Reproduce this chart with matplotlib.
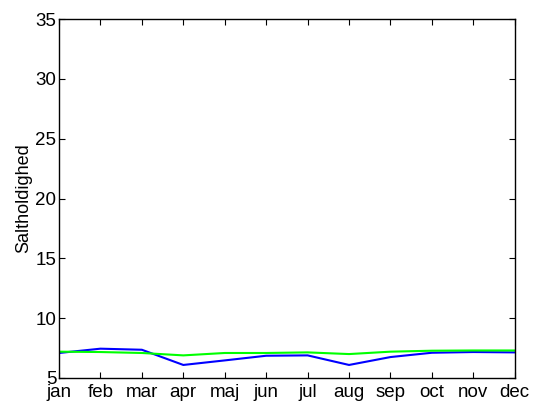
import matplotlib
matplotlib.use("Agg")
import matplotlib.pyplot as plt

# Manedlige gennemsnit af saltholdighed (aflaest fra figuren)
months = ["jan", "feb", "mar", "apr", "maj", "jun",
          "jul", "aug", "sep", "oct", "nov", "dec"]
salt_blue = [7.09, 7.45, 7.36, 6.09, 6.47, 6.86, 6.89, 6.09, 6.75, 7.11, 7.17, 7.14]
salt_green = [7.20, 7.17, 7.09, 6.89, 7.09, 7.09, 7.14, 7.00, 7.20, 7.28, 7.30, 7.30]
yticks = [5, 10, 15, 20, 25, 30, 35]

plt.rcParams["font.family"] = ["Liberation Sans", "DejaVu Sans"]

fig = plt.figure(figsize=(5.34, 4.09), dpi=100)
ax = fig.add_axes([0.1105, 0.0758, 0.8535, 0.8777])

x = list(range(1, len(months) + 1))
ax.plot(x, salt_blue, color="#0000ff", linewidth=1.5)
ax.plot(x, salt_green, color="#00ff00", linewidth=1.5)

ax.set_xlim(1, 12)
ax.set_ylim(5, 35)
ax.set_xticks(x)
ax.set_xticklabels(months)
ax.set_yticks(yticks)
ax.set_ylabel("Saltholdighed", fontsize=13, labelpad=2)

ax.tick_params(direction="in", top=True, right=True, length=4, width=0.8,
               labelsize=13.5, pad=2)
ax.tick_params(axis="x", pad=4)
for s in ax.spines.values():
    s.set_linewidth(1.0)

fig.savefig("out.png", dpi=100)
